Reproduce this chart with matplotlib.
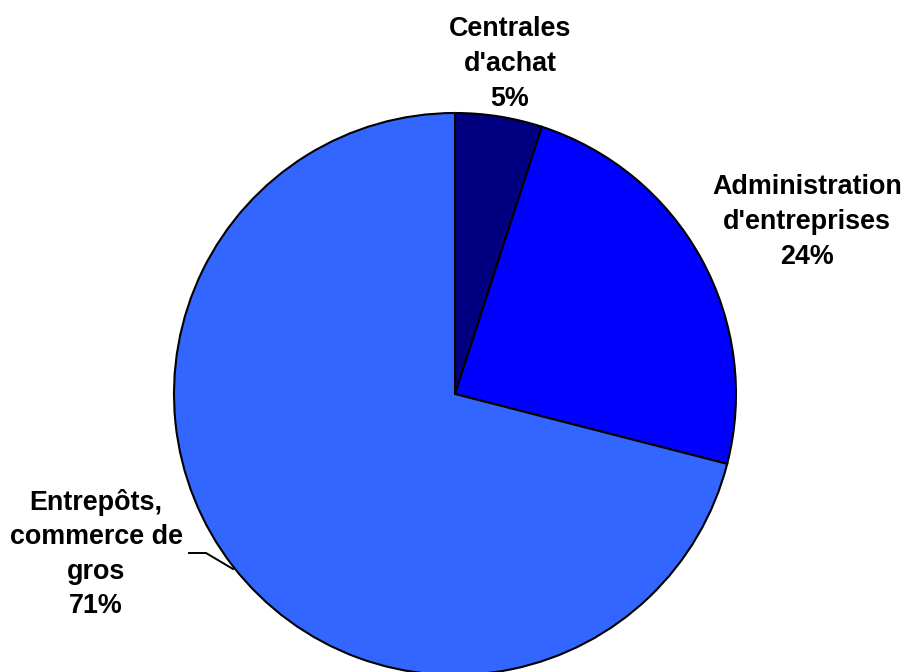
import matplotlib.pyplot as plt
from matplotlib import font_manager

# Parts de l'emploi par activité
labels = ["Centrales\nd'achat", "Administration\nd'entreprises", "Entrepôts,\ncommerce de\ngros"]
shares = [5, 24, 71]
colors = ["#000080", "#0000FF", "#3366FF"]

W, H = 907, 672
# label anchor points, measured from the top-left of the canvas
label_pos = [(510, 64), (807, 222), (96, 554)]

# pick the regular-width Liberation Sans Bold, not the Narrow cut
bold_file = None
for f in font_manager.fontManager.ttflist:
    if f.fname.endswith("LiberationSans-Bold.ttf"):
        bold_file = f.fname
if bold_file:
    label_font = font_manager.FontProperties(fname=bold_file, size=19.4)
else:
    label_font = font_manager.FontProperties(family='DejaVu Sans', weight='bold', size=19.4)

fig = plt.figure(figsize=(W / 100, H / 100), dpi=100)
ax = fig.add_axes([0, 0, 1, 1])

ax.pie(shares, colors=colors, startangle=90, counterclock=False,
       center=(455, H - 394), radius=281, frame=True,
       wedgeprops=dict(edgecolor='black', linewidth=1.5))
# pie() with frame=True resets the limits, put them back
ax.set_xlim(0, W)
ax.set_ylim(0, H)
ax.set_aspect('equal')
ax.axis('off')

for lab, val, (x, y) in zip(labels, shares, label_pos):
    ax.text(x, H - y, lab + "\n" + str(val) + "%", ha='center', va='center',
            fontproperties=label_font, linespacing=1.43)

# leader line for the big slice
ax.plot([189, 206, 233], [H - 553, H - 553, H - 569], color='black', linewidth=1.4)

fig.savefig("out.png", dpi=100)
